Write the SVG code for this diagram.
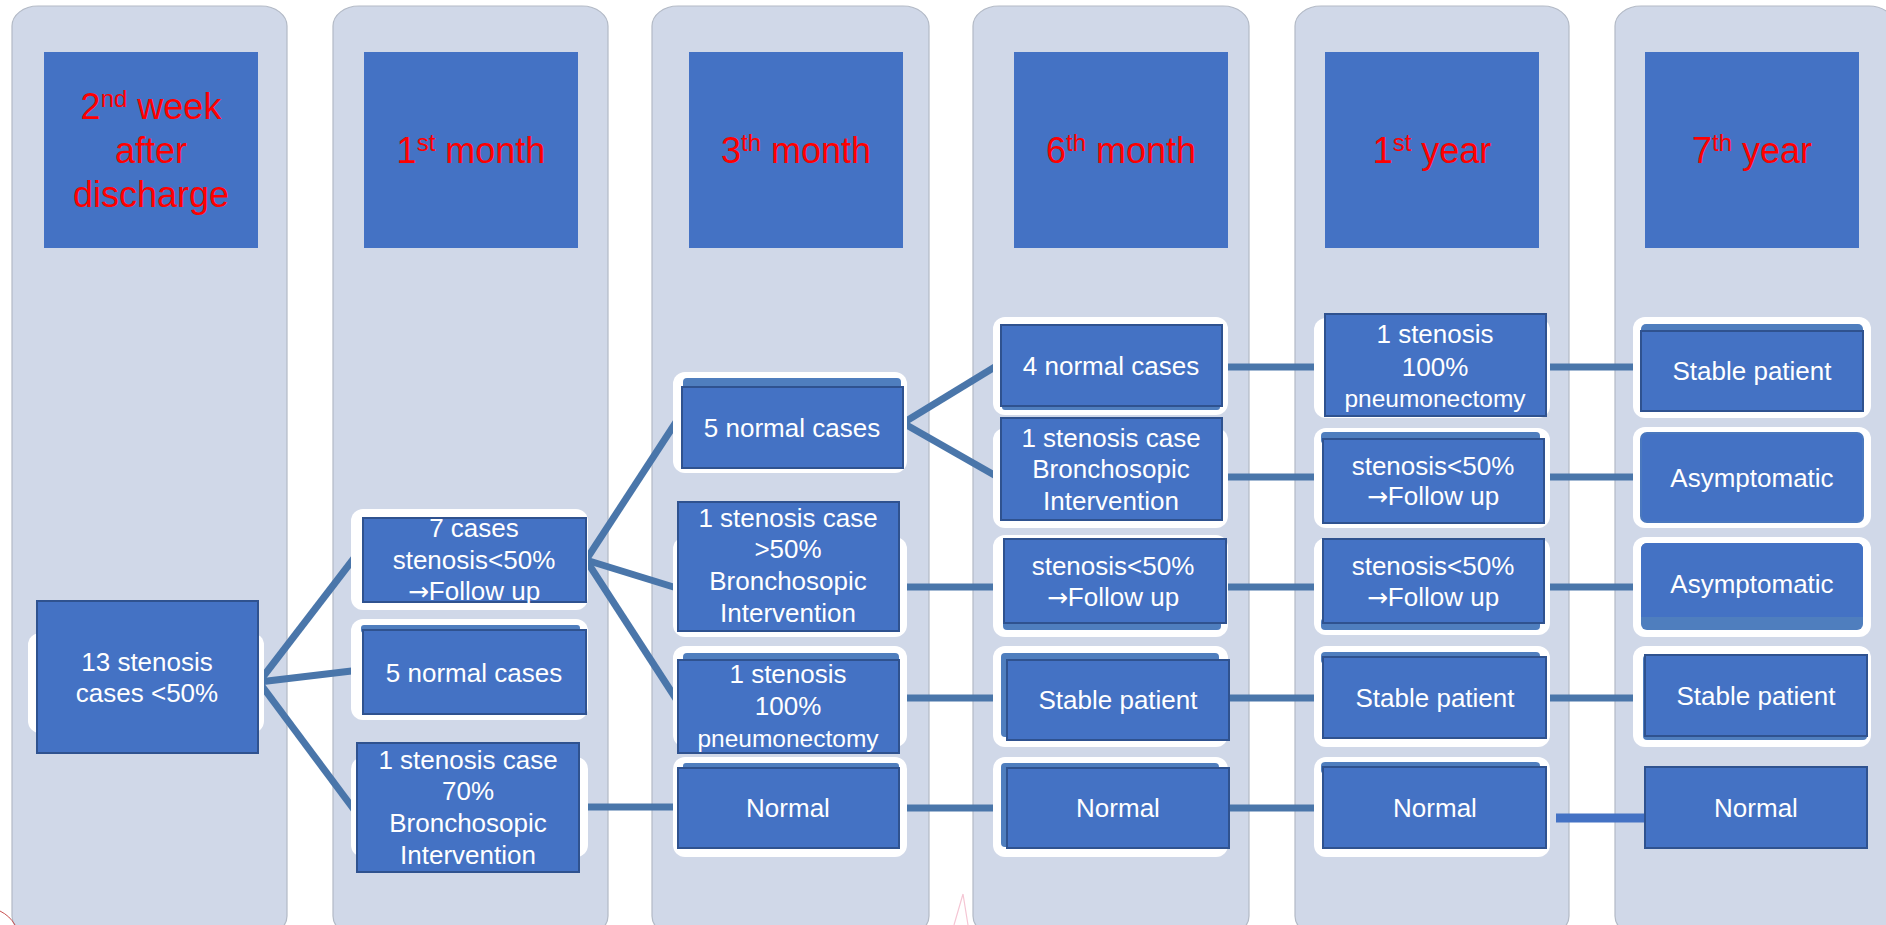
<svg xmlns="http://www.w3.org/2000/svg" width="1886" height="925" viewBox="0 0 1886 925">
<style>
.lane{fill:#D0D8E8;stroke:#B3BAC6;stroke-width:1.2}
.hdr{fill:#4472C4}
.ht{font-family:"Liberation Sans",Arial,sans-serif;font-size:36px;fill:#FF0000;text-anchor:middle}
.halo{fill:#FFFFFF}
.box{fill:#4472C4;stroke:#2F528F;stroke-width:2}
.band{fill:#4F7EBE}
.t{font-family:"Liberation Sans",Arial,sans-serif;font-size:26px;fill:#FFFFFF;text-anchor:middle}
.sm{font-size:24.5px}
.ar{font-family:"DejaVu Sans",sans-serif;font-size:25px}
.conn{stroke:#4A76AA;stroke-width:7;fill:none}
</style>
<rect width="1886" height="925" fill="#FFFFFF"/>
<g id="lanes">
<rect class="lane" x="12" y="6" width="275" height="930" rx="26" ry="20"/>
<rect class="lane" x="333" y="6" width="275" height="930" rx="26" ry="20"/>
<rect class="lane" x="652" y="6" width="277" height="930" rx="26" ry="20"/>
<rect class="lane" x="973" y="6" width="276" height="930" rx="26" ry="20"/>
<rect class="lane" x="1295" y="6" width="274" height="930" rx="26" ry="20"/>
<rect class="lane" x="1615" y="6" width="280" height="930" rx="26" ry="20"/>
</g>
<g id="watermark">
<path d="M963 894 L954 925 M963 894 L968 925" stroke="#F5C6D4" stroke-width="1.2" fill="none"/>
<path d="M0 911 Q10 916 15 925" stroke="#C85050" stroke-width="1" fill="none"/>
</g>
<g id="headers">
<g id="h1"><rect class="hdr" x="44" y="52" width="214" height="196"/>
<text class="ht" x="151" y="119">2<tspan font-size="24" dy="-12">nd</tspan><tspan dy="12"> week</tspan></text>
<text class="ht" x="151" y="163">after</text>
<text class="ht" x="151" y="207">discharge</text></g>
<g id="h2"><rect class="hdr" x="364" y="52" width="214" height="196"/>
<text class="ht" x="471" y="163">1<tspan font-size="24" dy="-12">st</tspan><tspan dy="12"> month</tspan></text></g>
<g id="h3"><rect class="hdr" x="689" y="52" width="214" height="196"/>
<text class="ht" x="796" y="163">3<tspan font-size="24" dy="-12">th</tspan><tspan dy="12"> month</tspan></text></g>
<g id="h4"><rect class="hdr" x="1014" y="52" width="214" height="196"/>
<text class="ht" x="1121" y="163">6<tspan font-size="24" dy="-12">th</tspan><tspan dy="12"> month</tspan></text></g>
<g id="h5"><rect class="hdr" x="1325" y="52" width="214" height="196"/>
<text class="ht" x="1432" y="163">1<tspan font-size="24" dy="-12">st</tspan><tspan dy="12"> year</tspan></text></g>
<g id="h6"><rect class="hdr" x="1645" y="52" width="214" height="196"/>
<text class="ht" x="1752" y="163">7<tspan font-size="24" dy="-12">th</tspan><tspan dy="12"> year</tspan></text></g>
</g>
<g id="connectors">
<path class="conn" d="M259 682 L358 553"/>
<path class="conn" d="M259 682 L360 670"/>
<path class="conn" d="M259 682 L358 815"/>
<path class="conn" d="M586 560 L680 416"/>
<path class="conn" d="M586 560 L680 589"/>
<path class="conn" d="M586 560 L680 705"/>
<path class="conn" d="M903 423 L1003 362"/>
<path class="conn" d="M903 423 L1003 480"/>
<path class="conn" d="M579 807 L680 807"/>
<path class="conn" d="M899 808 L1008 808"/>
<path class="conn" d="M1229 808 L1324 808"/>
<path class="conn" d="M1556 818 L1646 818" style="stroke:#4472C4;stroke-width:9"/>
<path class="conn" d="M899 698 L1008 698"/>
<path class="conn" d="M1229 698 L1324 698"/>
<path class="conn" d="M1546 698 L1646 698"/>
<path class="conn" d="M899 587 L1005 587"/>
<path class="conn" d="M1226 587 L1324 587"/>
<path class="conn" d="M1544 587 L1642 587"/>
<path class="conn" d="M1222 477 L1324 477"/>
<path class="conn" d="M1544 477 L1642 477"/>
<path class="conn" d="M1222 367 L1326 367"/>
<path class="conn" d="M1546 367 L1642 367"/>
</g>
<g id="n13">
<rect class="halo" x="28" y="633" width="236" height="100" rx="12"/>
<rect class="box" x="37" y="601" width="221" height="152"/>
<text class="t" x="147" y="671">13 stenosis</text>
<text class="t" x="147" y="702">cases &lt;50%</text>
</g>
<g id="n7cases">
<rect class="halo" x="351" y="509" width="237" height="101" rx="12"/>
<rect class="box" x="363" y="518" width="223" height="84"/>
<text class="t" x="474" y="537">7 cases</text>
<text class="t" x="474" y="569">stenosis&lt;50%</text>
<text class="t" x="474" y="600"><tspan class="ar">→</tspan>Follow up</text>
</g>
<g id="n5normal1">
<rect class="halo" x="351" y="619" width="237" height="101" rx="12"/>
<rect class="band" x="361" y="625" width="219" height="8" rx="3"/>
<rect class="box" x="363" y="630" width="223" height="84"/>
<text class="t" x="474" y="682">5 normal cases</text>
</g>
<g id="n1sc70">
<rect class="halo" x="351" y="757" width="237" height="100" rx="12"/>
<rect class="box" x="357" y="743" width="222" height="129"/>
<text class="t" x="468" y="769">1 stenosis case</text>
<text class="t" x="468" y="800">70%</text>
<text class="t" x="468" y="832">Bronchosopic</text>
<text class="t" x="468" y="864">Intervention</text>
</g>
<g id="n5normal3">
<rect class="halo" x="673" y="372" width="234" height="101" rx="12"/>
<rect class="band" x="683" y="378" width="218" height="12" rx="4"/>
<rect class="box" x="682" y="387" width="221" height="81"/>
<text class="t" x="792" y="437">5 normal cases</text>
</g>
<g id="n1sc50">
<rect class="halo" x="673" y="537" width="234" height="100" rx="12"/>
<rect class="box" x="678" y="502" width="221" height="129"/>
<text class="t" x="788" y="527">1 stenosis case</text>
<text class="t" x="788" y="558">&gt;50%</text>
<text class="t" x="788" y="590">Bronchosopic</text>
<text class="t" x="788" y="622">Intervention</text>
</g>
<g id="npneumo3">
<rect class="halo" x="673" y="646" width="234" height="101" rx="12"/>
<rect class="band" x="683" y="653" width="216" height="10" rx="4"/>
<rect class="box" x="678" y="660" width="221" height="93"/>
<text class="t" x="788" y="683">1 stenosis</text>
<text class="t" x="788" y="715">100%</text>
<text class="t sm" x="788" y="747">pneumonectomy</text>
</g>
<g id="nnormal3">
<rect class="halo" x="673" y="757" width="234" height="100" rx="12"/>
<rect class="band" x="683" y="763" width="216" height="8" rx="3"/>
<rect class="box" x="678" y="768" width="221" height="80"/>
<text class="t" x="788" y="817">Normal</text>
</g>
<g id="n4normal">
<rect class="halo" x="993" y="317" width="235" height="98" rx="12"/>
<rect class="band" x="1002" y="400" width="218" height="10" rx="3"/>
<rect class="box" x="1001" y="325" width="221" height="81"/>
<text class="t" x="1111" y="375">4 normal cases</text>
</g>
<g id="n1scB">
<rect class="halo" x="993" y="428" width="235" height="100" rx="12"/>
<rect class="box" x="1001" y="418" width="221" height="102"/>
<text class="t" x="1111" y="447">1 stenosis case</text>
<text class="t" x="1111" y="478">Bronchosopic</text>
<text class="t" x="1111" y="510">Intervention</text>
</g>
<g id="nfollow6">
<rect class="halo" x="993" y="535" width="235" height="102" rx="12"/>
<rect class="band" x="1003" y="618" width="218" height="12" rx="4"/>
<rect class="box" x="1004" y="539" width="222" height="84"/>
<text class="t" x="1113" y="575">stenosis&lt;50%</text>
<text class="t" x="1113" y="606"><tspan class="ar">→</tspan>Follow up</text>
</g>
<g id="nstable6">
<rect class="halo" x="993" y="646" width="235" height="101" rx="12"/>
<rect class="band" x="1001" y="653" width="218" height="84" rx="4"/>
<rect class="box" x="1007" y="660" width="222" height="80"/>
<text class="t" x="1118" y="709">Stable patient</text>
</g>
<g id="nnormal6">
<rect class="halo" x="993" y="757" width="235" height="100" rx="12"/>
<rect class="band" x="1001" y="763" width="218" height="84" rx="4"/>
<rect class="box" x="1007" y="768" width="222" height="80"/>
<text class="t" x="1118" y="817">Normal</text>
</g>
<g id="npneumo1y">
<rect class="halo" x="1314" y="318" width="236" height="100" rx="12"/>
<rect class="box" x="1325" y="314" width="221" height="102"/>
<text class="t" x="1435" y="343">1 stenosis</text>
<text class="t" x="1435" y="376">100%</text>
<text class="t sm" x="1435" y="407">pneumonectomy</text>
</g>
<g id="nfollow1ya">
<rect class="halo" x="1314" y="428" width="236" height="100" rx="12"/>
<rect class="band" x="1321" y="432" width="219" height="12" rx="4"/>
<rect class="box" x="1323" y="439" width="221" height="84"/>
<text class="t" x="1433" y="475">stenosis&lt;50%</text>
<text class="t" x="1433" y="505"><tspan class="ar">→</tspan>Follow up</text>
</g>
<g id="nfollow1yb">
<rect class="halo" x="1314" y="538" width="236" height="97" rx="12"/>
<rect class="band" x="1321" y="618" width="219" height="12" rx="4"/>
<rect class="box" x="1323" y="539" width="221" height="84"/>
<text class="t" x="1433" y="575">stenosis&lt;50%</text>
<text class="t" x="1433" y="606"><tspan class="ar">→</tspan>Follow up</text>
</g>
<g id="nstable1y">
<rect class="halo" x="1314" y="646" width="236" height="101" rx="12"/>
<rect class="band" x="1321" y="652" width="219" height="12" rx="4"/>
<rect class="box" x="1323" y="657" width="223" height="81"/>
<text class="t" x="1435" y="707">Stable patient</text>
</g>
<g id="nnormal1y">
<rect class="halo" x="1314" y="757" width="236" height="100" rx="12"/>
<rect class="band" x="1321" y="762" width="219" height="12" rx="4"/>
<rect class="box" x="1323" y="767" width="223" height="81"/>
<text class="t" x="1435" y="817">Normal</text>
</g>
<g id="nstable7a">
<rect class="halo" x="1633" y="317" width="238" height="101" rx="12"/>
<rect class="band" x="1641" y="324" width="222" height="14" rx="5"/>
<rect class="box" x="1641" y="331" width="222" height="80"/>
<text class="t" x="1752" y="380">Stable patient</text>
</g>
<g id="nasym7a">
<rect class="halo" x="1633" y="427" width="238" height="101" rx="12"/>
<rect x="1641" y="433" width="222" height="89" rx="6" fill="#4472C4" stroke="#4A78BE" stroke-width="2"/>
<text class="t" x="1752" y="487">Asymptomatic</text>
</g>
<g id="nasym7b">
<rect class="halo" x="1633" y="537" width="238" height="100" rx="12"/>
<rect x="1641" y="543" width="222" height="87" rx="6" fill="#4F7EBE"/>
<rect x="1641" y="543" width="222" height="74" rx="6" fill="#4472C4"/>
<rect x="1641" y="600" width="222" height="17" fill="#4472C4"/>
<text class="t" x="1752" y="593">Asymptomatic</text>
</g>
<g id="nstable7b">
<rect class="halo" x="1633" y="646" width="238" height="101" rx="12"/>
<rect class="band" x="1643" y="655" width="224" height="85" rx="4"/>
<rect class="box" x="1645" y="655" width="222" height="81"/>
<text class="t" x="1756" y="705">Stable patient</text>
</g>
<g id="nnormal7">
<rect class="box" x="1645" y="767" width="222" height="81"/>
<text class="t" x="1756" y="817">Normal</text>
</g>
</svg>
